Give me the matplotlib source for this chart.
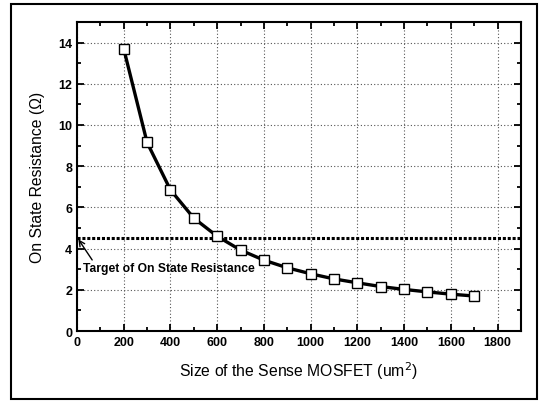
import matplotlib
matplotlib.use("Agg")
import matplotlib.pyplot as plt
from matplotlib.patches import Rectangle
from matplotlib.ticker import MultipleLocator

plt.rcParams['font.family'] = ['Liberation Sans', 'DejaVu Sans']

size_um2 = [200, 300, 400, 500, 600, 700, 800, 900, 1000, 1100, 1200, 1300, 1400, 1500, 1600, 1700]
resistance = [13.7, 9.15, 6.85, 5.48, 4.6, 3.93, 3.44, 3.07, 2.78, 2.53, 2.34, 2.16, 2.02, 1.9, 1.79, 1.7]
target_resistance = 4.5
x_ticks = [0, 200, 400, 600, 800, 1000, 1200, 1400, 1600, 1800]
y_ticks = [0, 2, 4, 6, 8, 10, 12, 14]

fig = plt.figure(figsize=(5.46, 4.02), dpi=100)
fig.patches.append(Rectangle((0.020, 0.005), 0.963, 0.983, transform=fig.transFigure,
                             fill=False, edgecolor='black', linewidth=1.5))
ax = fig.add_axes([0.141, 0.174, 0.813, 0.769])

ax.grid(True, which='major', linestyle=(0, (1, 2)), color='#555555', linewidth=0.8)
ax.axhline(target_resistance, color='black', linestyle=(0, (1.0, 0.6)), linewidth=2.2, zorder=2)
ax.plot(size_um2, resistance, color='black', linewidth=2.4, marker='s', markersize=6.5,
        markerfacecolor='white', markeredgecolor='black', markeredgewidth=1.0, zorder=3)

ax.text(25, 3.05, 'Target of On State Resistance', fontsize=8.7, fontweight='bold',
        ha='left', va='center')
ax.annotate('', xy=(6, target_resistance - 0.05), xytext=(65, 3.45),
            arrowprops=dict(arrowstyle='->', color='black', lw=1.0, shrinkA=0, shrinkB=0))

ax.set_xlim(0, 1900)
ax.set_ylim(0, 15)
ax.set_xticks(x_ticks)
ax.set_yticks(y_ticks)
ax.xaxis.set_minor_locator(MultipleLocator(100))
ax.yaxis.set_minor_locator(MultipleLocator(1))
ax.tick_params(which='both', direction='in', top=True, right=True, labelsize=9, width=1.3)
ax.tick_params(which='major', length=5)
ax.tick_params(which='minor', length=3)
for lbl in ax.get_xticklabels() + ax.get_yticklabels():
    lbl.set_fontweight('bold')
for s in ax.spines.values():
    s.set_linewidth(1.5)

ax.set_xlabel('Size of the Sense MOSFET (um$^2$)', fontsize=11.3, labelpad=8)
ax.set_ylabel('On State Resistance (Ω)', fontsize=11.3, labelpad=9)

fig.savefig('out.png', dpi=100)
